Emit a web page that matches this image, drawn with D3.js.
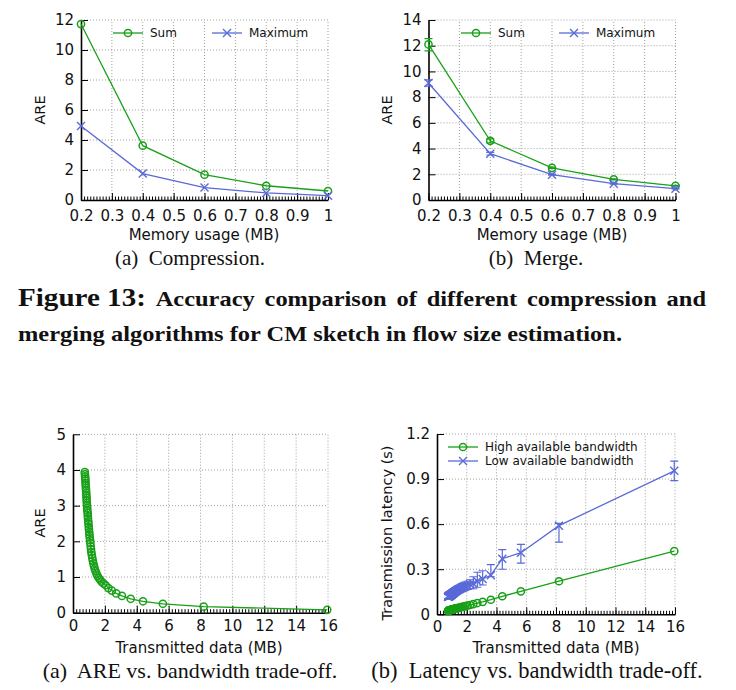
<!DOCTYPE html>
<html><head><meta charset="utf-8">
<script src="https://cdn.jsdelivr.net/npm/d3@7"></script>
<style>body{margin:0;background:#fff}</style>
</head><body>
<script>
// ---------- data ----------
const memX = [0.2, 0.4, 0.6, 0.8, 1.0];
const compSum = [11.73, 3.62, 1.69, 0.95, 0.6];
const compMax = [4.93, 1.76, 0.83, 0.47, 0.29];
const mergeSum = [12.1, 4.6, 2.5, 1.6, 1.1];
const mergeSumLo = [11.6, 4.45, 2.45, 1.57, 1.08];
const mergeSumHi = [12.55, 4.75, 2.55, 1.65, 1.14];
const mergeMax = [9.1, 3.6, 1.97, 1.27, 0.88];
const mergeMaxLo = [8.85, 3.5, 1.93, 1.24, 0.86];
const mergeMaxHi = [9.35, 3.7, 2.01, 1.3, 0.9];
const memTicks = [0.2, 0.3, 0.4, 0.5, 0.6, 0.7, 0.8, 0.9, 1];
const compYTicks = [0, 2, 4, 6, 8, 10, 12];
const mergeYTicks = [0, 2, 4, 6, 8, 10, 12, 14];

const transX = [15.95, 8.2, 5.64, 4.39, 3.62, 3.07, 2.71, 2.44, 2.22, 2.05, 1.91, 1.79, 1.69, 1.61, 1.53, 1.47, 1.41, 1.36, 1.32, 1.28, 1.24, 1.21, 1.18, 1.15, 1.13, 1.11, 1.09, 1.07, 1.05, 1.03, 1.02, 1.0, 0.99, 0.97, 0.96, 0.94, 0.93, 0.92, 0.90, 0.89, 0.88, 0.87, 0.86, 0.85, 0.84, 0.83, 0.82, 0.81, 0.80, 0.79, 0.78, 0.77, 0.76, 0.75, 0.74];
const bwARE = [0.08, 0.17, 0.25, 0.32, 0.39, 0.47, 0.54, 0.62, 0.69, 0.77, 0.82, 0.87, 0.93, 0.98, 1.04, 1.10, 1.17, 1.24, 1.31, 1.38, 1.46, 1.54, 1.62, 1.70, 1.78, 1.86, 1.95, 2.03, 2.11, 2.19, 2.26, 2.34, 2.41, 2.49, 2.56, 2.64, 2.71, 2.79, 2.86, 2.93, 3.0, 3.07, 3.14, 3.21, 3.28, 3.35, 3.42, 3.49, 3.56, 3.63, 3.70, 3.76, 3.82, 3.88, 3.94];
const latHigh = [0.42, 0.22, 0.153, 0.12, 0.097, 0.083, 0.075, 0.068, 0.062, 0.058, 0.055, 0.051, 0.049, 0.047, 0.045, 0.043, 0.042, 0.041, 0.040, 0.039, 0.038, 0.037, 0.036, 0.035, 0.035, 0.034, 0.034, 0.033, 0.033, 0.032, 0.032, 0.031, 0.031, 0.030, 0.030, 0.030, 0.029, 0.029, 0.028, 0.028, 0.028, 0.027, 0.027, 0.027, 0.026, 0.026, 0.026, 0.025, 0.025, 0.025, 0.024, 0.024, 0.024, 0.023, 0.023];
const latLow = [0.955, 0.59, 0.41, 0.37, 0.26, 0.235, 0.22, 0.205, 0.2, 0.19, 0.186, 0.181, 0.177, 0.173, 0.169, 0.166, 0.163, 0.160, 0.157, 0.155, 0.152, 0.150, 0.148, 0.146, 0.144, 0.142, 0.141, 0.139, 0.138, 0.136, 0.135, 0.134, 0.133, 0.132, 0.131, 0.130, 0.129, 0.128, 0.127, 0.126, 0.125, 0.125, 0.124, 0.123, 0.122, 0.122, 0.121, 0.120, 0.120, 0.119, 0.118, 0.118, 0.117, 0.117, 0.116];
const latLowLo = [0.89, 0.48, 0.34, 0.30, 0.25, 0.195, 0.18, 0.17, 0.17, 0.165, 0.16, 0.155, 0.152, 0.15, 0.146, 0.144, 0.141, 0.139, 0.137, 0.135, 0.133, 0.131, 0.129, 0.128, 0.126, 0.124, 0.123, 0.121, 0.120, 0.119, 0.118, 0.117, 0.116, 0.115, 0.114, 0.113, 0.112, 0.111, 0.110, 0.110, 0.109, 0.109, 0.108, 0.107, 0.107, 0.106, 0.106, 0.105, 0.105, 0.104, 0.104, 0.103, 0.103, 0.102, 0.102];
const latLowHi = [1.02, 0.605, 0.466, 0.43, 0.33, 0.29, 0.28, 0.25, 0.23, 0.22, 0.215, 0.21, 0.205, 0.2, 0.195, 0.19, 0.186, 0.182, 0.178, 0.175, 0.172, 0.169, 0.167, 0.165, 0.162, 0.160, 0.158, 0.157, 0.155, 0.153, 0.152, 0.151, 0.150, 0.149, 0.148, 0.147, 0.146, 0.145, 0.144, 0.143, 0.142, 0.141, 0.140, 0.139, 0.138, 0.138, 0.137, 0.136, 0.135, 0.135, 0.134, 0.133, 0.132, 0.132, 0.131];
const transTicks = [0, 2, 4, 6, 8, 10, 12, 14, 16];
const bwYTicks = [0, 1, 2, 3, 4, 5];
const latYTicks = [0, 0.3, 0.6, 0.9, 1.2];

const seriesNames = ["Sum", "Maximum"];
const latNames = ["High available bandwidth", "Low available bandwidth"];
const subCaptions = ["(a)  Compression.", "(b)  Merge.", "(a)  ARE vs. bandwidth trade-off.", "(b)  Latency vs. bandwidth trade-off."];
const figLabel = "Figure 13:";
const figLine1 = ["Accuracy", "comparison", "of", "different", "compression", "and"];
const figLine2 = "merging algorithms for CM sketch in flow size estimation.";

// ---------- style ----------
const GREEN = "#18a018", BLUE = "#5a6ad8";
const SANS = "'DejaVu Sans', sans-serif";
const SERIF = "'Liberation Serif', 'DejaVu Serif', serif";

const svg = d3.select("body").append("svg").attr("width", 736).attr("height", 690);
svg.append("rect").attr("width", 736).attr("height", 690).attr("fill", "#fff");

function circleMarker(g, x, y, color) {
  g.append("circle").attr("cx", x).attr("cy", y).attr("r", 3.6)
    .attr("fill", "none").attr("stroke", color).attr("stroke-width", 1.5);
}
function crossMarker(g, x, y, color) {
  const s = 4;
  g.append("path").attr("d", `M${x - s},${y - s}L${x + s},${y + s}M${x - s},${y + s}L${x + s},${y - s}`)
    .attr("stroke", color).attr("stroke-width", 1.4).attr("fill", "none");
}

function panel(cfg) {
  const g = svg.append("g");
  const x = d3.scaleLinear().domain(cfg.xDom).range(cfg.xRange);
  const y = d3.scaleLinear().domain(cfg.yDom).range(cfg.yRange);
  const grid = g.append("g").attr("stroke", "#a0a0a0").attr("stroke-width", 1).attr("stroke-dasharray", "1,2");
  cfg.xTicks.forEach(v => { if (v !== cfg.xDom[0]) grid.append("line").attr("x1", x(v)).attr("x2", x(v)).attr("y1", y(cfg.yDom[0])).attr("y2", y(cfg.yDom[1])); });
  cfg.yTicks.forEach(v => { if (v !== cfg.yDom[0]) grid.append("line").attr("y1", y(v)).attr("y2", y(v)).attr("x1", x(cfg.xDom[0])).attr("x2", x(cfg.xDom[1])); });
  const minor = d3.range(cfg.xDom[0], cfg.xDom[1] + 1e-9, cfg.xMinor);
  g.append("g").attr("transform", `translate(0,${y(cfg.yDom[0])})`)
    .call(d3.axisBottom(x).tickValues(minor).tickSize(-3.5).tickFormat("").tickSizeOuter(0))
    .call(a => a.select(".domain").remove())
    .selectAll("line").attr("stroke", "#000").attr("stroke-width", 1);
  const xa = g.append("g").attr("transform", `translate(0,${y(cfg.yDom[0])})`)
    .call(d3.axisBottom(x).tickValues(cfg.xTicks).tickSize(-7).tickSizeOuter(0).tickPadding(cfg.xPad).tickFormat(cfg.xFmt));
  xa.select(".domain").attr("stroke-width", 1.6);
  xa.selectAll("text").attr("font-family", SANS).attr("font-size", 15).attr("fill", "#111");
  const ya = g.append("g").attr("transform", `translate(${x(cfg.xDom[0])},0)`)
    .call(d3.axisLeft(y).tickValues(cfg.yTicks).tickSize(-7).tickSizeOuter(0).tickPadding(7).tickFormat(cfg.yFmt));
  ya.select(".domain").attr("stroke-width", 1.6);
  ya.selectAll("text").attr("font-family", SANS).attr("font-size", 15).attr("fill", "#111");
  g.append("text").attr("x", cfg.xLabelPos[0]).attr("y", cfg.xLabelPos[1]).attr("text-anchor", "middle")
    .attr("font-family", SANS).attr("font-size", 15).attr("fill", "#111").text(cfg.xLabel);
  g.append("text").attr("transform", `translate(${cfg.yLabelPos[0]},${cfg.yLabelPos[1]}) rotate(-90)`)
    .attr("text-anchor", "middle").attr("dy", "0.35em")
    .attr("font-family", SANS).attr("font-size", 14.5).attr("fill", "#111").text(cfg.yLabel);
  g.append("text").attr("x", cfg.capPos[0]).attr("y", cfg.capPos[1]).attr("text-anchor", "middle")
    .attr("font-family", SERIF).attr("font-size", cfg.capSize).attr("fill", "#111").style("white-space", "pre")
    .attr("xml:space", "preserve").text(cfg.caption);
  return { g, x, y };
}

function series(p, xs, ys, color, marker, lo, hi, capW) {
  const pts = xs.map((v, i) => [p.x(v), p.y(ys[i])]);
  p.g.append("path").attr("d", d3.line()(pts)).attr("fill", "none").attr("stroke", color).attr("stroke-width", 1.3);
  if (lo) {
    xs.forEach((v, i) => {
      const cx = p.x(v), y0 = p.y(lo[i]), y1 = p.y(hi[i]);
      p.g.append("path").attr("d", `M${cx},${y0}V${y1}M${cx - capW},${y0}H${cx + capW}M${cx - capW},${y1}H${cx + capW}`)
        .attr("stroke", color).attr("stroke-width", 1.2).attr("fill", "none");
    });
  }
  pts.forEach(d => marker(p.g, d[0], d[1], color));
}

function legendItem(x0, yy, color, marker, label) {
  const g = svg.append("g");
  g.append("line").attr("x1", x0).attr("x2", x0 + 30).attr("y1", yy).attr("y2", yy).attr("stroke", color).attr("stroke-width", 1.3);
  marker(g, x0 + 15, yy, color);
  g.append("text").attr("x", x0 + 37).attr("y", yy).attr("dy", "0.35em").attr("font-family", SANS).attr("font-size", 12)
    .attr("fill", "#111").text(label);
}

const fmtMem = d => (d === 1 ? "1" : d3.format(".1f")(d));

const p1 = panel({ xDom: [0.2, 1], xRange: [81, 328], yDom: [0, 12], yRange: [200, 20],
  xTicks: memTicks, yTicks: compYTicks, xMinor: 0.01, xFmt: fmtMem, yFmt: d3.format("d"), xPad: 10,
  xLabel: "Memory usage (MB)", xLabelPos: [204, 240], yLabel: "ARE", yLabelPos: [40, 110],
  caption: subCaptions[0], capPos: [190, 265], capSize: 21 });
series(p1, memX, compSum, GREEN, circleMarker);
series(p1, memX, compMax, BLUE, crossMarker);
legendItem(113, 33, GREEN, circleMarker, seriesNames[0]);
legendItem(212, 33, BLUE, crossMarker, seriesNames[1]);

const p2 = panel({ xDom: [0.2, 1], xRange: [428.5, 675.5], yDom: [0, 14], yRange: [200, 20],
  xTicks: memTicks, yTicks: mergeYTicks, xMinor: 0.01, xFmt: fmtMem, yFmt: d3.format("d"), xPad: 10,
  xLabel: "Memory usage (MB)", xLabelPos: [552, 240], yLabel: "ARE", yLabelPos: [387, 110],
  caption: subCaptions[1], capPos: [536, 265], capSize: 21 });
series(p2, memX, mergeSum, GREEN, circleMarker, mergeSumLo, mergeSumHi, 4);
series(p2, memX, mergeMax, BLUE, crossMarker, mergeMaxLo, mergeMaxHi, 4);
legendItem(461, 33, GREEN, circleMarker, seriesNames[0]);
legendItem(559, 33, BLUE, crossMarker, seriesNames[1]);

const p3 = panel({ xDom: [0, 16], xRange: [73, 328], yDom: [0, 5], yRange: [612.7, 434.3],
  xTicks: transTicks, yTicks: bwYTicks, xMinor: 0.2, xFmt: d3.format("d"), yFmt: d3.format("d"), xPad: 8,
  xLabel: "Transmitted data (MB)", xLabelPos: [199, 653], yLabel: "ARE", yLabelPos: [40, 523],
  caption: subCaptions[2], capPos: [190, 678], capSize: 22 });
series(p3, transX, bwARE, GREEN, circleMarker);

const p4 = panel({ xDom: [0, 16], xRange: [437, 675], yDom: [0, 1.2], yRange: [614.3, 434],
  xTicks: transTicks, yTicks: latYTicks, xMinor: 0.2, xFmt: d3.format("d"), yFmt: d => (d === 0 ? "0" : d3.format(".1f")(d)), xPad: 7,
  xLabel: "Transmitted data (MB)", xLabelPos: [556, 653], yLabel: "Transmission latency (s)", yLabelPos: [387, 533],
  caption: subCaptions[3], capPos: [537, 678], capSize: 22.5 });
series(p4, transX, latHigh, GREEN, circleMarker);
series(p4, transX, latLow, BLUE, crossMarker, latLowLo, latLowHi, 4);
legendItem(448, 447, GREEN, circleMarker, latNames[0]);
legendItem(448, 461, BLUE, crossMarker, latNames[1]);

// Figure caption: line 2 fixed width, line 1 justified, both stretched by same factor
const cap = svg.append("g").attr("font-family", SERIF).attr("font-weight", "bold").attr("fill", "#111");
const L = 18, R = 706, B1 = 306, B2 = 341, W2 = 604;
const t2 = cap.append("text").attr("x", L).attr("y", B2).attr("font-size", 21).text(figLine2);
const k = W2 / t2.node().getComputedTextLength();
t2.attr("textLength", W2).attr("lengthAdjust", "spacingAndGlyphs");
const words = [{ t: figLabel, s: 25 }].concat(figLine1.map(t => ({ t, s: 21 })));
const nodes = words.map(w => cap.append("text").attr("y", B1).attr("font-size", w.s).text(w.t));
const widths = nodes.map(n => n.node().getComputedTextLength() * k);
nodes.forEach((n, i) => n.attr("textLength", widths[i]).attr("lengthAdjust", "spacingAndGlyphs"));
const gap = (R - L - d3.sum(widths)) / (nodes.length - 1);
let cx = L;
nodes.forEach((n, i) => { n.attr("x", cx); cx += widths[i] + gap; });
</script>
</body></html>
